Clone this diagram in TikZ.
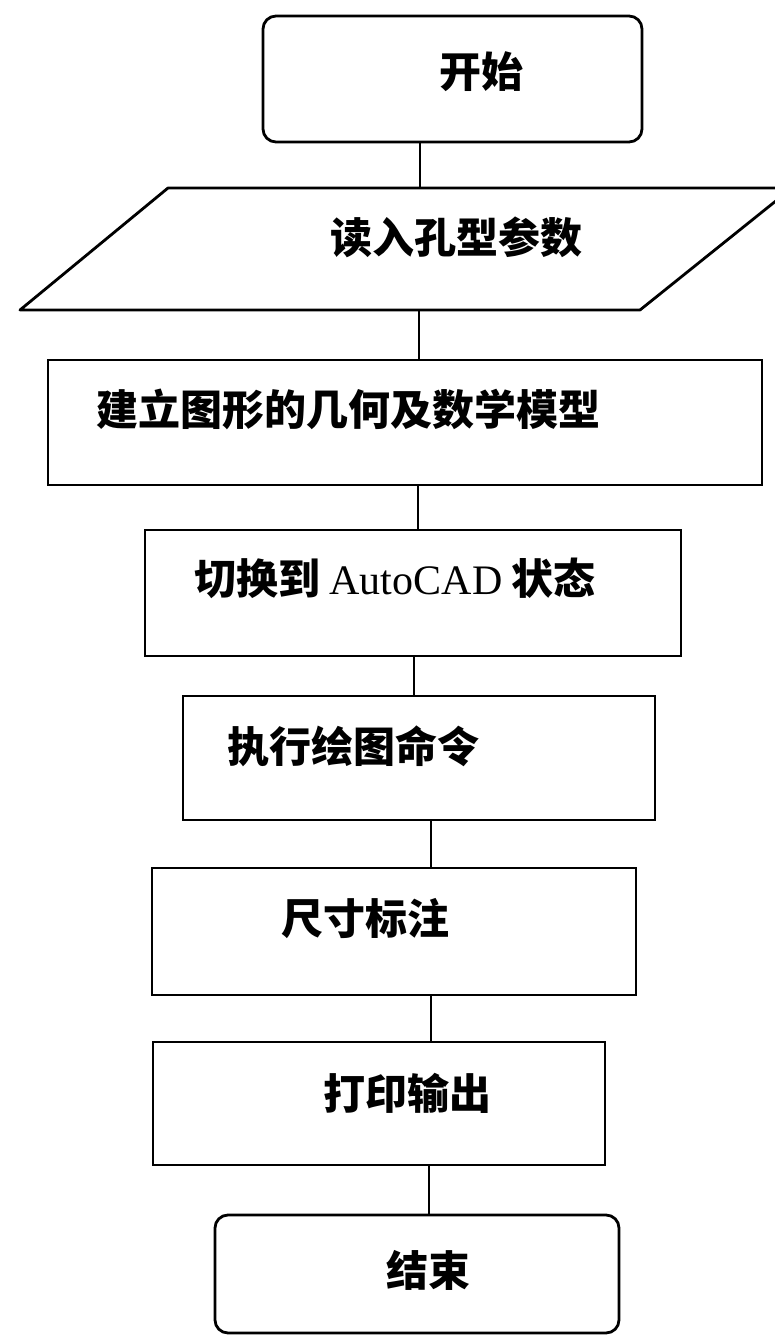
\documentclass[tikz,border=0pt]{standalone}
\usepackage{fontspec}
\setmainfont{Liberation Serif}
\newfontfamily\cjk{Noto Sans CJK SC}
\begin{document}
\begin{tikzpicture}[x=1pt,y=-1pt,
  box/.style={draw=black,line width=2.8pt,inner sep=0pt,minimum width=#1},
  term/.style={box=#1,rounded corners=13pt},
  lbl/.style={inner sep=0pt,font=\fontsize{42}{50}\selectfont\cjk\bfseries},
  conn/.style={draw=black,line width=2pt}]
\useasboundingbox (0,0) rectangle (775,1338);
% start
\node[term=379pt,minimum height=126pt] (start) at (452.5,79) {};
\node[lbl] (tstart) at (481,72) {开始};
% parallelogram (input)
\coordinate (pbl) at (20,310);
\coordinate (ptl) at (168,188);
\coordinate (ptr) at (792,188);
\coordinate (pbr) at (640,310);
\begin{scope}
\clip (0,0) rectangle (775,1338);
\draw[line width=2.8pt,line join=round] (pbl) -- (ptl) -- (ptr) -- (pbr) -- cycle;
\end{scope}
\coordinate (ptop) at (420,188);
\coordinate (pbot) at (419,310);
\node[lbl] (tpara) at (456,237) {读入孔型参数};
% process boxes
\node[box=714pt,minimum height=125pt] (b2) at (405,422.5) {};
\node[lbl] (tb2) at (348,409) {建立图形的几何及数学模型};
\node[box=536pt,minimum height=126pt] (b3) at (413,593) {};
\node[lbl] (tb3) at (395,578) {切换到 {\rmfamily\mdseries AutoCAD} 状态};
\node[box=472pt,minimum height=124pt] (b4) at (419,758) {};
\node[lbl] (tb4) at (353,746) {执行绘图命令};
\node[box=484pt,minimum height=127pt] (b5) at (394,931.5) {};
\node[lbl] (tb5) at (365,919) {尺寸标注};
\node[box=452pt,minimum height=123pt] (b6) at (379,1103.5) {};
\node[lbl] (tb6) at (407,1093) {打印输出};
\node[term=404pt,minimum height=118pt] (end) at (417,1274) {};
\node[lbl] (tend) at (428,1270) {结束};
% connectors
\coordinate (x1) at (420,0);
\coordinate (x3) at (418,0);
\coordinate (x4) at (414,0);
\coordinate (x5) at (431,0);
\coordinate (x7) at (429,0);
\draw[conn] (start.south -| x1) -- (ptop);
\draw[conn] (pbot) -- (b2.north -| pbot);
\draw[conn] (b2.south -| x3) -- (b3.north -| x3);
\draw[conn] (b3.south -| x4) -- (b4.north -| x4);
\draw[conn] (b4.south -| x5) -- (b5.north -| x5);
\draw[conn] (b5.south -| x5) -- (b6.north -| x5);
\draw[conn] (b6.south -| x7) -- (end.north -| x7);
\end{tikzpicture}
\end{document}
